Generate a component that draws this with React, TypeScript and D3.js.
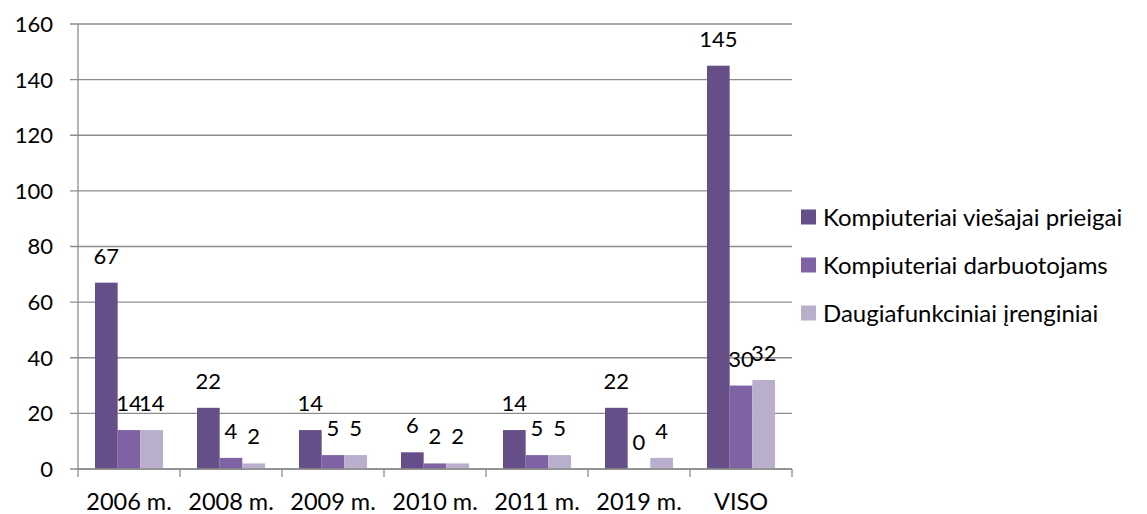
import React, { useRef, useEffect } from "react";
import * as d3 from "d3";

const categories = ["2006 m.", "2008 m.", "2009 m.", "2010 m.", "2011 m.", "2019 m.", "VISO"];
const seriesNames = [
  "Kompiuteriai viešajai prieigai",
  "Kompiuteriai darbuotojams",
  "Daugiafunkciniai įrenginiai",
];
const publicPcs = [67, 22, 14, 6, 14, 22, 145];
const staffPcs = [14, 4, 5, 2, 5, 0, 30];
const mfDevices = [14, 2, 5, 2, 5, 4, 32];
const yTicks = [0, 20, 40, 60, 80, 100, 120, 140, 160];
const colors = ["#664f88", "#7f62a4", "#b9aecc"];

const W = 1147;
const H = 514;
const FONT = "Lato, 'Open Sans', sans-serif";

const App: React.FC = () => {
  const svgRef = useRef<SVGSVGElement | null>(null);

  useEffect(() => {
    if (!svgRef.current) return;
    document.body.style.margin = "0";
    const svg = d3.select(svgRef.current);
    svg.selectAll("*").remove();

    const left = 78, right = 792, top = 24, bottom = 469;
    const series = [publicPcs, staffPcs, mfDevices];

    const x = d3.scaleBand<string>().domain(categories).range([left, right]);
    const bw = x.bandwidth();
    const xi = d3.scaleBand<number>().domain([0, 1, 2]).range([bw / 6, (bw * 5) / 6]);
    const y = d3.scaleLinear().domain([0, 160]).range([bottom, top]);

    // gridlines
    svg.append("g")
      .selectAll("line")
      .data(yTicks)
      .enter().append("line")
      .attr("x1", left - 8)
      .attr("x2", right)
      .attr("y1", d => y(d))
      .attr("y2", d => y(d))
      .attr("stroke", "#8c8c8c")
      .attr("stroke-width", 1.3);

    // y labels
    svg.append("g")
      .selectAll("text")
      .data(yTicks)
      .enter().append("text")
      .attr("x", 53)
      .attr("y", d => y(d))
      .attr("dy", "0.36em")
      .attr("text-anchor", "end")
      .style("font", `22px ${FONT}`)
      .text(d => d);

    // bars + value labels
    series.forEach((vals, si) => {
      svg.append("g")
        .selectAll("rect")
        .data(vals)
        .enter().append("rect")
        .attr("x", (d, i) => x(categories[i])! + xi(si)!)
        .attr("width", xi.bandwidth())
        .attr("y", d => y(d))
        .attr("height", d => y(0) - y(d))
        .attr("fill", colors[si]);

      svg.append("g")
        .selectAll("text")
        .data(vals)
        .enter().append("text")
        .attr("x", (d, i) => x(categories[i])! + xi(si)! + xi.bandwidth() / 2)
        .attr("y", d => y(d) - 19)
        .attr("text-anchor", "middle")
        .style("font", `22px ${FONT}`)
        .text(d => d);
    });

    // axis lines
    svg.append("line")
      .attr("x1", left).attr("x2", left)
      .attr("y1", top).attr("y2", bottom)
      .attr("stroke", "#8c8c8c").attr("stroke-width", 1.3);
    svg.append("line")
      .attr("x1", left).attr("x2", right)
      .attr("y1", bottom).attr("y2", bottom)
      .attr("stroke", "#8c8c8c").attr("stroke-width", 1.3);
    const tickXs = categories.map(c => x(c)!).concat([right]);
    svg.append("g")
      .selectAll("line")
      .data(tickXs)
      .enter().append("line")
      .attr("x1", d => d).attr("x2", d => d)
      .attr("y1", bottom).attr("y2", bottom + 8)
      .attr("stroke", "#8c8c8c").attr("stroke-width", 1.3);

    // x labels
    svg.append("g")
      .selectAll("text")
      .data(categories)
      .enter().append("text")
      .attr("x", d => x(d)! + bw / 2)
      .attr("y", 510)
      .attr("text-anchor", "middle")
      .style("font", `23.5px ${FONT}`)
      .text(d => d);

    // legend
    const lg = svg.append("g")
      .selectAll("g")
      .data(seriesNames)
      .enter().append("g")
      .attr("transform", (d, i) => `translate(801,${217 + i * 48})`);
    lg.append("rect")
      .attr("x", 0).attr("y", -7.5)
      .attr("width", 15).attr("height", 15)
      .attr("fill", (d, i) => colors[i]);
    lg.append("text")
      .attr("x", 22)
      .attr("dy", "0.36em")
      .style("font", `24px ${FONT}`)
      .text(d => d);
  }, []);

  return <svg ref={svgRef} width={W} height={H} style={{ display: "block", background: "#fff" }}></svg>;
};

export default App;
